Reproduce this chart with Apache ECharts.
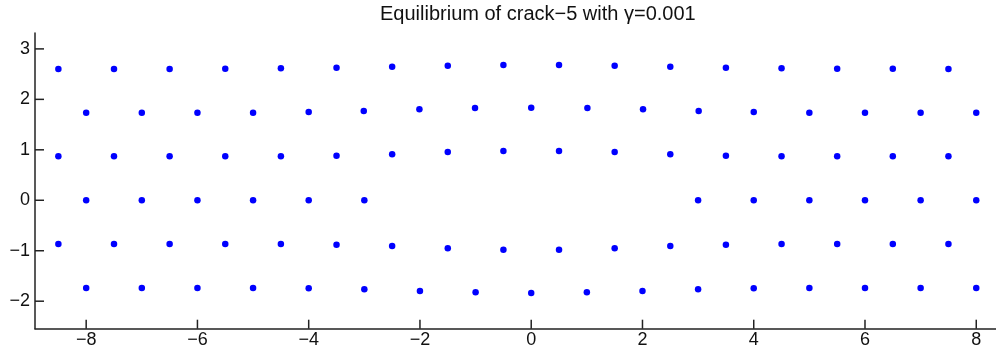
<!DOCTYPE html>
<html>
<head>
<meta charset="utf-8">
<title>Equilibrium of crack−5</title>
<script src="https://cdn.jsdelivr.net/npm/echarts@6/dist/echarts.min.js"></script>
<style>
  html, body { margin: 0; padding: 0; background: #ffffff; }
  #chart { width: 996px; height: 352px; }
</style>
</head>
<body>
<div id="chart"></div>
<script>
// Atom positions of the triangular lattice, one row at a time (x, y).
var row1X = [-8.5, -7.5, -6.5, -5.5, -4.5, -3.5, -2.5, -1.5, -0.5, 0.5, 1.5, 2.5, 3.5, 4.5, 5.5, 6.5, 7.5];
var row1Y = [2.602, 2.602, 2.603, 2.609, 2.615, 2.628, 2.648, 2.668, 2.681, 2.681, 2.668, 2.648, 2.628, 2.615, 2.609, 2.609, 2.602];

var row2X = [-8, -7, -6, -5, -4, -3.01, -2.01, -1.01, 0, 1.01, 2.01, 3.01, 4, 5, 6, 7, 8];
var row2Y = [1.737, 1.737, 1.737, 1.737, 1.750, 1.770, 1.803, 1.829, 1.836, 1.829, 1.803, 1.770, 1.750, 1.737, 1.737, 1.737, 1.737];

var row3X = [-8.5, -7.5, -6.5, -5.5, -4.5, -3.5, -2.5, -1.5, -0.5, 0.5, 1.5, 2.5, 3.5, 4.5, 5.5, 6.5, 7.5];
var row3Y = [0.871, 0.871, 0.871, 0.871, 0.871, 0.884, 0.911, 0.957, 0.977, 0.977, 0.957, 0.911, 0.884, 0.871, 0.871, 0.871, 0.871];

var row4X = [-8, -7, -6, -5, -4, -3, 3, 4, 5, 6, 7, 8];
var row4Y = [0, 0, 0, 0, 0, 0, 0, 0, 0, 0, 0, 0];

var row5X = [-8.5, -7.5, -6.5, -5.5, -4.5, -3.5, -2.5, -1.5, -0.5, 0.5, 1.5, 2.5, 3.5, 4.5, 5.5, 6.5, 7.5];
var row5Y = [-0.866, -0.866, -0.866, -0.866, -0.866, -0.879, -0.906, -0.952, -0.978, -0.978, -0.952, -0.906, -0.879, -0.866, -0.866, -0.866, -0.866];

var row6X = [-8, -7, -6, -5, -4, -3, -2, -1, 0, 1, 2, 3, 4, 5, 6, 7, 8];
var row6Y = [-1.738, -1.738, -1.738, -1.738, -1.745, -1.764, -1.797, -1.824, -1.837, -1.824, -1.797, -1.764, -1.745, -1.738, -1.738, -1.738, -1.738];

// Axis ticks and their labels
var xTicks = [-8, -6, -4, -2, 0, 2, 4, 6, 8];
var xTickLabels = ['−8', '−6', '−4', '−2', '0', '2', '4', '6', '8'];
var yTicks = [-2, -1, 0, 1, 2, 3];
var yTickLabels = ['−2', '−1', '0', '1', '2', '3'];

// Axis extents
var xMin = -8.92, xMax = 8.355;
var yMin = -2.545, yMax = 3.315;

var titleText = 'Equilibrium of crack−5 with γ=0.001';

function zipRow(xs, ys) {
  var out = [];
  for (var i = 0; i < xs.length; i++) out.push([xs[i], ys[i]]);
  return out;
}
var points = [].concat(
  zipRow(row1X, row1Y), zipRow(row2X, row2Y), zipRow(row3X, row3Y),
  zipRow(row4X, row4Y), zipRow(row5X, row5Y), zipRow(row6X, row6Y)
);

function labelFor(ticks, labels) {
  return function (v) {
    for (var i = 0; i < ticks.length; i++) {
      if (Math.abs(ticks[i] - v) < 1e-6) return labels[i];
    }
    return '';
  };
}

var FONT = '"Liberation Sans", Arial, Helvetica, sans-serif';
var AXIS_COLOR = '#222222';
var TICK_LEN = 9;

// Inward-pointing tick marks, placed through the axes' own scales.
var xTickData = xTicks.map(function (v) { return [v, yMin]; });
var yTickData = yTicks.map(function (v) { return [xMin, v]; });

function tickRenderer(dx, dy) {
  return function (params, api) {
    var p = api.coord([api.value(0), api.value(1)]);
    return {
      type: 'line',
      shape: { x1: p[0], y1: p[1], x2: p[0] + dx * TICK_LEN, y2: p[1] + dy * TICK_LEN },
      style: { stroke: AXIS_COLOR, lineWidth: 1.5 },
      silent: true
    };
  };
}

var chart = echarts.init(document.getElementById('chart'), null, { renderer: 'canvas' });
chart.setOption({
  backgroundColor: '#ffffff',
  animation: false,
  title: {
    text: titleText,
    left: 380,
    top: 4,
    padding: 0,
    textStyle: { fontFamily: FONT, fontSize: 20, fontWeight: 'normal', color: '#111111' }
  },
  grid: { left: 35, right: 0, top: 33, bottom: 23.3, containLabel: false },
  xAxis: {
    type: 'value',
    min: xMin,
    max: xMax,
    axisLine: { show: true, onZero: false, lineStyle: { color: AXIS_COLOR, width: 1.5 } },
    axisTick: { show: false },
    axisLabel: {
      show: true, customValues: xTicks, margin: 2,
      formatter: labelFor(xTicks, xTickLabels),
      fontFamily: FONT, fontSize: 18, color: '#111111'
    },
    splitLine: { show: false }
  },
  yAxis: {
    type: 'value',
    min: yMin,
    max: yMax,
    axisLine: { show: true, onZero: false, lineStyle: { color: AXIS_COLOR, width: 1.5 } },
    axisTick: { show: false },
    axisLabel: {
      show: true, customValues: yTicks, margin: 5,
      formatter: labelFor(yTicks, yTickLabels),
      fontFamily: FONT, fontSize: 18, color: '#111111'
    },
    splitLine: { show: false }
  },
  series: [
    {
      type: 'custom',
      data: xTickData,
      renderItem: tickRenderer(0, -1),
      clip: false,
      silent: true,
      z: 1
    },
    {
      type: 'custom',
      data: yTickData,
      renderItem: tickRenderer(1, 0),
      clip: false,
      silent: true,
      z: 1
    },
    {
      type: 'scatter',
      data: points,
      symbol: 'circle',
      symbolSize: 6.5,
      itemStyle: { color: '#0000ff', opacity: 1 },
      emphasis: { disabled: true },
      silent: true,
      z: 2
    }
  ]
});
</script>
</body>
</html>
